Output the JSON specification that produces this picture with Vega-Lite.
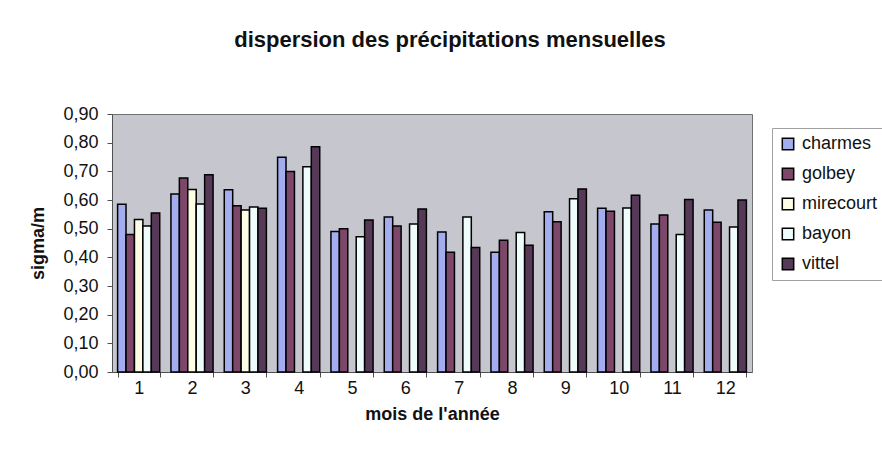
{
  "$schema": "https://vega.github.io/schema/vega-lite/v6.json",
  "autosize": {"type": "none"},
  "padding": {"left": 112, "top": 114, "right": 130, "bottom": 91},
  "width": 640,
  "height": 258,
  "background": "#ffffff",
  "title": {
    "text": "dispersion des précipitations mensuelles",
    "anchor": "middle",
    "dx": 18,
    "offset": 53,
    "font": "Liberation Sans",
    "fontSize": 22,
    "fontWeight": "bold",
    "color": "#111111"
  },
  "data": {
    "values": [
      {"mois": 1, "station": "charmes", "sigma": 0.585},
      {"mois": 1, "station": "golbey", "sigma": 0.48},
      {"mois": 1, "station": "mirecourt", "sigma": 0.532},
      {"mois": 1, "station": "bayon", "sigma": 0.509},
      {"mois": 1, "station": "vittel", "sigma": 0.555},
      {"mois": 2, "station": "charmes", "sigma": 0.621},
      {"mois": 2, "station": "golbey", "sigma": 0.677},
      {"mois": 2, "station": "mirecourt", "sigma": 0.637},
      {"mois": 2, "station": "bayon", "sigma": 0.586},
      {"mois": 2, "station": "vittel", "sigma": 0.688},
      {"mois": 3, "station": "charmes", "sigma": 0.636},
      {"mois": 3, "station": "golbey", "sigma": 0.58},
      {"mois": 3, "station": "mirecourt", "sigma": 0.565},
      {"mois": 3, "station": "bayon", "sigma": 0.576},
      {"mois": 3, "station": "vittel", "sigma": 0.571},
      {"mois": 4, "station": "charmes", "sigma": 0.749},
      {"mois": 4, "station": "golbey", "sigma": 0.699},
      {"mois": 4, "station": "bayon", "sigma": 0.716},
      {"mois": 4, "station": "vittel", "sigma": 0.786},
      {"mois": 5, "station": "charmes", "sigma": 0.49},
      {"mois": 5, "station": "golbey", "sigma": 0.5},
      {"mois": 5, "station": "bayon", "sigma": 0.472},
      {"mois": 5, "station": "vittel", "sigma": 0.53},
      {"mois": 6, "station": "charmes", "sigma": 0.541},
      {"mois": 6, "station": "golbey", "sigma": 0.509},
      {"mois": 6, "station": "bayon", "sigma": 0.516},
      {"mois": 6, "station": "vittel", "sigma": 0.569},
      {"mois": 7, "station": "charmes", "sigma": 0.488},
      {"mois": 7, "station": "golbey", "sigma": 0.418},
      {"mois": 7, "station": "bayon", "sigma": 0.541},
      {"mois": 7, "station": "vittel", "sigma": 0.434},
      {"mois": 8, "station": "charmes", "sigma": 0.418},
      {"mois": 8, "station": "golbey", "sigma": 0.46},
      {"mois": 8, "station": "bayon", "sigma": 0.487},
      {"mois": 8, "station": "vittel", "sigma": 0.442},
      {"mois": 9, "station": "charmes", "sigma": 0.559},
      {"mois": 9, "station": "golbey", "sigma": 0.524},
      {"mois": 9, "station": "bayon", "sigma": 0.604},
      {"mois": 9, "station": "vittel", "sigma": 0.638},
      {"mois": 10, "station": "charmes", "sigma": 0.571},
      {"mois": 10, "station": "golbey", "sigma": 0.561},
      {"mois": 10, "station": "bayon", "sigma": 0.572},
      {"mois": 10, "station": "vittel", "sigma": 0.617},
      {"mois": 11, "station": "charmes", "sigma": 0.516},
      {"mois": 11, "station": "golbey", "sigma": 0.548},
      {"mois": 11, "station": "bayon", "sigma": 0.48},
      {"mois": 11, "station": "vittel", "sigma": 0.602},
      {"mois": 12, "station": "charmes", "sigma": 0.565},
      {"mois": 12, "station": "golbey", "sigma": 0.522},
      {"mois": 12, "station": "bayon", "sigma": 0.506},
      {"mois": 12, "station": "vittel", "sigma": 0.6}
    ]
  },
  "mark": {"type": "bar", "stroke": "#000000", "strokeWidth": 1.5},
  "encoding": {
    "x": {
      "field": "mois",
      "type": "ordinal",
      "scale": {"paddingInner": 0.21, "paddingOuter": 0.105},
      "axis": {
        "title": "mois de l'année",
        "labelAngle": 0,
        "tickBand": "extent",
        "tickSize": 5,
        "labelPadding": 2,
        "titlePadding": 8,
        "grid": false
      }
    },
    "xOffset": {
      "field": "station",
      "type": "nominal",
      "scale": {"domain": ["charmes", "golbey", "mirecourt", "bayon", "vittel"], "paddingInner": 0, "paddingOuter": 0}
    },
    "y": {
      "field": "sigma",
      "type": "quantitative",
      "scale": {"domain": [0, 0.9], "nice": false},
      "axis": {
        "title": "sigma/m",
        "values": [0, 0.1, 0.2, 0.3, 0.4, 0.5, 0.6, 0.7, 0.8, 0.9],
        "labelExpr": "replace(format(datum.value, '.2f'), '.', ',')",
        "tickSize": 5,
        "labelPadding": 9,
        "titlePadding": 15,
        "grid": false
      }
    },
    "color": {
      "field": "station",
      "type": "nominal",
      "scale": {
        "domain": ["charmes", "golbey", "mirecourt", "bayon", "vittel"],
        "range": ["#a3adf0", "#7c4769", "#fdfde6", "#eefcfc", "#563857"]
      },
      "legend": {
        "title": null,
        "orient": "none",
        "legendX": 660,
        "legendY": 14,
        "symbolType": "square",
        "symbolSize": 130,
        "symbolStrokeColor": "#000000",
        "symbolStrokeWidth": 1.5,
        "symbolOpacity": 1,
        "labelFontSize": 18,
        "labelFont": "Liberation Sans",
        "labelColor": "#111111",
        "labelOffset": 5,
        "rowPadding": 12,
        "padding": 7,
        "strokeColor": "#a0a0a0",
        "fillColor": "#ffffff"
      }
    }
  },
  "config": {
    "view": {"fill": "#c6c6ce", "stroke": "#707070", "strokeWidth": 1},
    "axis": {
      "labelFont": "Liberation Sans",
      "labelFontSize": 18,
      "labelColor": "#111111",
      "titleFont": "Liberation Sans",
      "titleFontSize": 18,
      "titleFontWeight": "bold",
      "titleColor": "#111111",
      "domainColor": "#505050",
      "tickColor": "#505050"
    }
  }
}
